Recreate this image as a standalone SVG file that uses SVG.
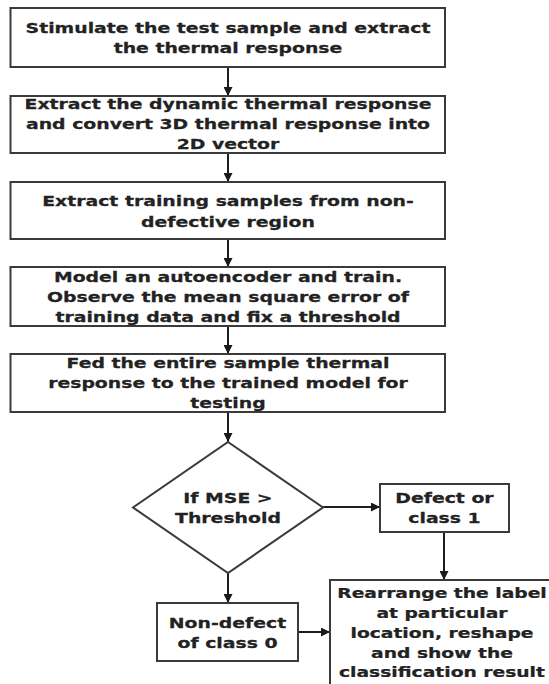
<svg xmlns="http://www.w3.org/2000/svg" width="549" height="684" viewBox="0 0 549 684">
<defs>
<marker id="ah" viewBox="0 0 10 10" refX="10" refY="5" markerWidth="9" markerHeight="9" markerUnits="userSpaceOnUse" orient="auto">
<path d="M0,0 L10,5 L0,10 Z" fill="#1a1a1a"/>
</marker>
<style>
.box{fill:#fff;stroke:#3a3a3a;stroke-width:2}
.t{font-family:"DejaVu Sans","Liberation Sans",sans-serif;font-weight:bold;font-size:14.5px;fill:#222;stroke:#222;stroke-width:0.25;text-anchor:middle}
.c{fill:none;stroke:#1e1e1e;stroke-width:2;marker-end:url(#ah)}
</style>
</defs>
<rect width="549" height="684" fill="#fff"/>
<g id="connectors">
<line class="c" x1="228" y1="67" x2="228" y2="96"/>
<line class="c" x1="228" y1="153" x2="228" y2="182"/>
<line class="c" x1="228" y1="239" x2="228" y2="267"/>
<line class="c" x1="228" y1="326" x2="228" y2="354"/>
<line class="c" x1="228" y1="412" x2="228" y2="442"/>
<line class="c" x1="323" y1="507" x2="380" y2="507"/>
<line class="c" x1="444" y1="532" x2="444" y2="580"/>
<line class="c" x1="228" y1="573" x2="228" y2="603"/>
<line class="c" x1="298" y1="632" x2="330" y2="632"/>
</g>
<g id="n1">
<rect class="box" x="10.5" y="8" width="434.5" height="59"/>
<g transform="translate(228,0) scale(1.3,1) translate(-228,0)">
<text class="t" x="228" y="33">Stimulate the test sample and extract</text>
<text class="t" x="228" y="53">the thermal response</text>
</g>
</g>
<g id="n2">
<rect class="box" x="10.5" y="96" width="434.5" height="57"/>
<g transform="translate(228,0) scale(1.3,1) translate(-228,0)">
<text class="t" x="228" y="109">Extract the dynamic thermal response</text>
<text class="t" x="228" y="129">and convert 3D thermal response into</text>
<text class="t" x="228" y="149">2D vector</text>
</g>
</g>
<g id="n3">
<rect class="box" x="10.5" y="182" width="434.5" height="57"/>
<g transform="translate(228,0) scale(1.3,1) translate(-228,0)">
<text class="t" x="228" y="206">Extract training samples from non-</text>
<text class="t" x="228" y="227">defective region</text>
</g>
</g>
<g id="n4">
<rect class="box" x="10.5" y="267" width="434.5" height="59"/>
<g transform="translate(228,0) scale(1.3,1) translate(-228,0)">
<text class="t" x="228" y="282">Model an autoencoder and train.</text>
<text class="t" x="228" y="302">Observe the mean square error of</text>
<text class="t" x="228" y="322">training data and fix a threshold</text>
</g>
</g>
<g id="n5">
<rect class="box" x="10.5" y="354" width="434.5" height="58"/>
<g transform="translate(228,0) scale(1.3,1) translate(-228,0)">
<text class="t" x="228" y="368">Fed the entire sample thermal</text>
<text class="t" x="228" y="388">response to the trained model for</text>
<text class="t" x="228" y="408">testing</text>
</g>
</g>
<g id="decision">
<polygon class="box" points="228,442 323,507.5 228,573 133,507.5"/>
<g transform="translate(228,0) scale(1.3,1) translate(-228,0)">
<text class="t" x="228" y="503">If MSE &gt;</text>
<text class="t" x="228" y="523">Threshold</text>
</g>
</g>
<g id="defect">
<rect class="box" x="380" y="484" width="129" height="48"/>
<g transform="translate(444.5,0) scale(1.3,1) translate(-444.5,0)">
<text class="t" x="444.5" y="503">Defect or</text>
<text class="t" x="444.5" y="523">class 1</text>
</g>
</g>
<g id="nondefect">
<rect class="box" x="157" y="603" width="141" height="58"/>
<g transform="translate(227.5,0) scale(1.3,1) translate(-227.5,0)">
<text class="t" x="227.5" y="628">Non-defect</text>
<text class="t" x="227.5" y="648">of class 0</text>
</g>
</g>
<g id="rearrange">
<rect class="box" x="330" y="580" width="226" height="112"/>
<g transform="translate(442,0) scale(1.29,1) translate(-442,0)">
<text class="t" x="442" y="598">Rearrange the label</text>
<text class="t" x="442" y="618">at particular</text>
<text class="t" x="442" y="638">location, reshape</text>
<text class="t" x="442" y="658">and show the</text>
<text class="t" x="442" y="677">classification result</text>
</g>
</g>
</svg>
